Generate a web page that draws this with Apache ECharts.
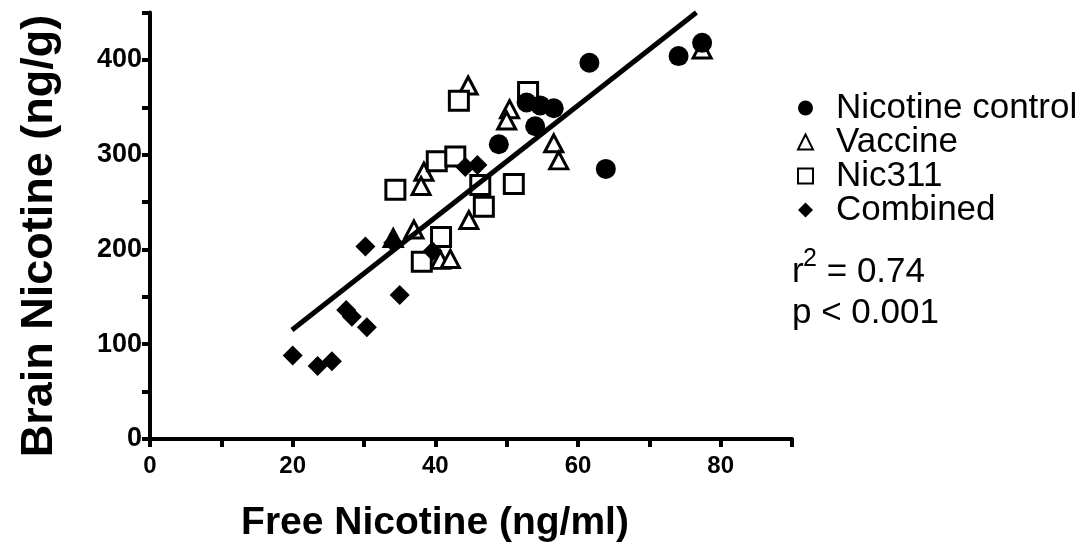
<!DOCTYPE html>
<html>
<head>
<meta charset="utf-8">
<script src="https://cdn.jsdelivr.net/npm/echarts@6/dist/echarts.min.js"></script>
<style>
html,body{margin:0;padding:0;background:#fff;}
#chart{width:1091px;height:553px;}
</style>
</head>
<body>
<div id="chart"></div>
<script>
// Data: [free nicotine (ng/ml), brain nicotine (ng/g)]
const seriesNames = ['Nicotine control', 'Vaccine', 'Nic311', 'Combined'];
const nicotineControl = [[48.9,311],[52.8,355],[54.7,352],[56.6,349],[54.0,330],[61.6,397],[63.9,285],[74.1,404],[77.4,418]];
const vaccine = [[44.6,373],[50.4,348],[50.0,336],[56.6,312],[57.3,294],[77.4,411],[44.7,231],[38.4,282],[38.0,267],[37.0,221],[34.1,212],[40.7,189],[42.1,190]];
const nic311 = [[43.3,357],[53.0,366],[34.4,263],[40.2,293],[42.8,298],[46.3,268],[51.0,269],[46.8,245],[40.8,213],[38.1,187]];
const combined = [[20.0,88],[23.5,77],[25.5,82],[27.5,136],[28.3,129],[30.4,118],[30.2,203],[34.1,207],[35.0,152],[39.6,198],[44.2,287],[45.9,289]];
const regressionLine = [[19.9,115],[76.6,450]];
const xTickLabels = [0, 20, 40, 60, 80];
const yTickLabels = [0, 100, 200, 300, 400];
const statR = ['r', '2', ' = 0.74'];
const statP = 'p < 0.001';
const xTitle = 'Free Nicotine (ng/ml)';
const yTitle = 'Brain Nicotine (ng/g)';

const FONT = '"Liberation Sans", Arial, Helvetica, sans-serif';
const chart = echarts.init(document.getElementById('chart'), null, {renderer: 'canvas'});

const option = {
  animation: false,
  backgroundColor: '#ffffff',
  grid: {left: 150, right: 299, top: 12.5, bottom: 114, containLabel: false},
  xAxis: {
    type: 'value', min: 0, max: 90, interval: 10,
    axisLine: {show: true, onZero: false, lineStyle: {color: '#000', width: 4}},
    axisTick: {show: true, inside: false, length: 8, lineStyle: {color: '#000', width: 4}},
    splitLine: {show: false},
    axisLabel: {
      margin: 15, color: '#000', fontFamily: FONT, fontWeight: 'bold', fontSize: 24,
      formatter: v => xTickLabels.indexOf(v) >= 0 ? String(v) : ''
    }
  },
  yAxis: {
    type: 'value', min: 0, max: 450, interval: 50,
    axisLine: {show: true, onZero: false, lineStyle: {color: '#000', width: 4}},
    axisTick: {show: true, inside: false, length: 8, lineStyle: {color: '#000', width: 4}},
    splitLine: {show: false},
    axisLabel: {
      margin: 8, color: '#000', fontFamily: FONT, fontWeight: 'bold', fontSize: 27,
      formatter: v => yTickLabels.indexOf(v) >= 0 ? String(v) : ''
    }
  },
  legend: {
    orient: 'vertical', left: 792, top: 85.5,
    itemWidth: 15, itemHeight: 15, itemGap: -1,
    selectedMode: false,
    textStyle: {fontFamily: FONT, fontSize: 35, color: '#000', padding: [0, 0, 0, 18]},
    data: [
      {name: seriesNames[0], icon: 'circle', itemStyle: {color: '#000', borderWidth: 0}},
      {name: seriesNames[1], icon: 'triangle', itemStyle: {color: '#fff', borderColor: '#000', borderWidth: 2}},
      {name: seriesNames[2], icon: 'rect', itemStyle: {color: '#fff', borderColor: '#000', borderWidth: 2}},
      {name: seriesNames[3], icon: 'diamond', itemStyle: {color: '#000', borderWidth: 0}}
    ]
  },
  series: [
    {name: seriesNames[1], type: 'scatter', z: 2, data: vaccine, symbol: 'triangle', symbolSize: [18, 17],
     itemStyle: {color: '#fff', borderColor: '#000', borderWidth: 3, opacity: 1}},
    {name: seriesNames[2], type: 'scatter', z: 3, data: nic311, symbol: 'rect', symbolSize: 19,
     itemStyle: {color: '#fff', borderColor: '#000', borderWidth: 3, opacity: 1}},
    {name: seriesNames[3], type: 'scatter', z: 4, data: combined, symbol: 'diamond', symbolSize: 20,
     itemStyle: {color: '#000', opacity: 1}},
    {name: seriesNames[0], type: 'scatter', z: 5, data: nicotineControl, symbol: 'circle', symbolSize: 20,
     itemStyle: {color: '#000', opacity: 1}},
    {name: 'fit', type: 'line', z: 6, data: regressionLine, symbol: 'none', silent: true,
     lineStyle: {color: '#000', width: 5}}
  ],
  graphic: [
    {type: 'text', x: 435, y: 523, style: {text: xTitle, font: 'bold 39px ' + FONT, fill: '#000', align: 'center', verticalAlign: 'middle'}},
    {type: 'text', x: 40, y: 236, rotation: Math.PI / 2, style: {text: yTitle, font: 'bold 45px ' + FONT, fill: '#000', align: 'center', verticalAlign: 'middle'}},
    {type: 'text', x: 792, y: 272, style: {text: statR[0], font: '35px ' + FONT, fill: '#000', align: 'left', verticalAlign: 'middle'}},
    {type: 'text', x: 803, y: 259, style: {text: statR[1], font: '25px ' + FONT, fill: '#000', align: 'left', verticalAlign: 'middle'}},
    {type: 'text', x: 817, y: 272, style: {text: statR[2], font: '35px ' + FONT, fill: '#000', align: 'left', verticalAlign: 'middle'}},
    {type: 'text', x: 792, y: 313.5, style: {text: statP, font: '35px ' + FONT, fill: '#000', align: 'left', verticalAlign: 'middle'}}
  ]
};
chart.setOption(option);
</script>
</body>
</html>
